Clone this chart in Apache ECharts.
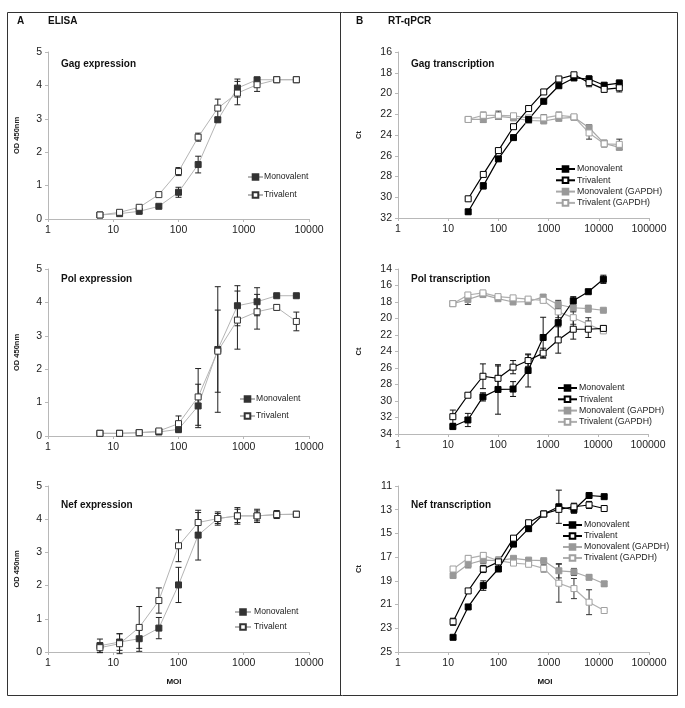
<!DOCTYPE html>
<html>
<head>
<meta charset="utf-8">
<script src="https://cdn.jsdelivr.net/npm/echarts@6/dist/echarts.min.js"></script>
<style>html,body{margin:0;padding:0;background:#fff;}#c{width:685px;height:708px;}</style>
</head>
<body>
<div id="c"></div>
<script>
// ---------- DATA ----------
const moiA = [6.25, 12.5, 25, 50, 100, 200, 400, 800, 1600, 3200, 6400];
const moiGagB = [25, 50, 100, 200, 400, 800, 1600, 3200, 6400, 12800, 25600];
const moiB = [12.5, 25, 50, 100, 200, 400, 800, 1600, 3200, 6400, 12800];

const gagElisaMono = [0.12, 0.16, 0.23, 0.38, 0.8, 1.63, 2.97, 3.92, 4.17, 4.17, 4.17];
const gagElisaMonoErr = [0.02, 0.03, 0.06, 0.04, 0.15, 0.25, 0.06, 0.27, 0.06, 0.03, 0.02];
const gagElisaTri = [0.12, 0.2, 0.35, 0.73, 1.42, 2.45, 3.32, 3.77, 4.02, 4.17, 4.17];
const gagElisaTriErr = [0.02, 0.03, 0.04, 0.03, 0.12, 0.12, 0.27, 0.35, 0.2, 0.04, 0.02];

const polElisaMono = [0.08, 0.08, 0.1, 0.12, 0.2, 0.9, 2.59, 3.9, 4.02, 4.2, 4.2];
const polElisaMonoErr = [0.02, 0.02, 0.02, 0.03, 0.1, 0.65, 1.88, 0.6, 0.42, 0.03, 0.03];
const polElisaTri = [0.08, 0.08, 0.1, 0.15, 0.37, 1.17, 2.54, 3.47, 3.72, 3.85, 3.43];
const polElisaTriErr = [0.02, 0.02, 0.02, 0.05, 0.23, 0.85, 1.23, 0.87, 0.52, 0.08, 0.28];

const nefElisaMono = [0.19, 0.3, 0.4, 0.72, 2.02, 3.52, 4.02, 4.1, 4.1, 4.14, 4.15];
const nefElisaMonoErr = [0.2, 0.25, 0.38, 0.32, 0.53, 0.75, 0.2, 0.25, 0.2, 0.12, 0.08];
const nefElisaTri = [0.13, 0.25, 0.74, 1.55, 3.2, 3.9, 4.02, 4.1, 4.1, 4.14, 4.15];
const nefElisaTriErr = [0.15, 0.3, 0.63, 0.38, 0.48, 0.3, 0.15, 0.2, 0.15, 0.1, 0.06];

const gagPcrMono = [31.4, 28.9, 26.3, 24.25, 22.5, 20.75, 19.25, 18.5, 18.6, 19.2, 19.0];
const gagPcrMonoErr = [0.2, 0.3, 0.2, 0.15, 0.15, 0.15, 0.15, 0.2, 0.3, 0.2, 0.3];
const gagPcrTri = [30.15, 27.8, 25.5, 23.2, 21.45, 19.85, 18.6, 18.2, 18.95, 19.6, 19.45];
const gagPcrTriErr = [0.1, 0.2, 0.2, 0.15, 0.2, 0.2, 0.15, 0.15, 0.4, 0.25, 0.4];
const gagPcrMonoG = [22.5, 22.5, 22.2, 22.35, 22.6, 22.65, 22.4, 22.3, 23.3, 24.8, 25.2];
const gagPcrMonoGErr = [0.1, 0.3, 0.3, 0.1, 0.2, 0.15, 0.2, 0.2, 0.3, 0.3, 0.2];
const gagPcrTriG = [22.5, 22.1, 22.1, 22.15, 22.35, 22.35, 22.1, 22.25, 23.8, 24.85, 24.9];
const gagPcrTriGErr = [0.1, 0.3, 0.4, 0.1, 0.2, 0.3, 0.3, 0.1, 0.6, 0.3, 0.5];

const polPcrMono = [33.1, 32.3, 29.5, 28.6, 28.55, 26.3, 22.3, 20.5, 17.85, 16.75, 15.25];
const polPcrMonoErr = [0.2, 0.8, 0.5, 3.0, 0.9, 2.0, 2.45, 1.8, 0.5, 0.2, 0.5];
const polPcrTri = [31.9, 29.3, 27.0, 27.25, 25.9, 25.1, 24.2, 22.6, 21.3, 21.3, 21.2];
const polPcrTriErr = [0.8, 0.2, 1.5, 1.5, 0.8, 0.7, 0.6, 1.6, 1.2, 1.0, 0.3];
const polPcrMonoG = [18.2, 17.7, 17.1, 17.6, 18.0, 17.95, 17.4, 18.3, 18.7, 18.8, 19.0];
const polPcrMonoGErr = [0.3, 0.6, 0.2, 0.2, 0.2, 0.2, 0.3, 0.5, 0.5, 0.4, 0.1];
const polPcrTriG = [18.2, 17.15, 16.9, 17.35, 17.5, 17.65, 17.8, 19.2, 19.9, 20.7, 21.5];
const polPcrTriGErr = [0.2, 0.2, 0.3, 0.2, 0.2, 0.2, 0.2, 0.7, 0.8, 0.8, 0.2];

const nefPcrMono = [23.76, 21.2, 19.4, 18.0, 15.9, 14.6, 13.36, 12.75, 13.0, 11.8, 11.9];
const nefPcrMonoErr = [0.15, 0.15, 0.4, 0.15, 0.15, 0.2, 0.15, 1.4, 0.3, 0.1, 0.1];
const nefPcrTri = [22.45, 19.85, 18.0, 17.4, 15.4, 14.1, 13.36, 12.97, 12.75, 12.6, 12.9];
const nefPcrTriErr = [0.3, 0.2, 0.3, 0.4, 0.15, 0.15, 0.1, 0.2, 0.3, 0.3, 0.1];
const nefPcrMonoG = [18.55, 17.6, 17.25, 17.3, 17.1, 17.25, 17.3, 18.15, 18.25, 18.7, 19.25];
const nefPcrMonoGErr = [0.15, 0.3, 0.3, 0.15, 0.1, 0.1, 0.1, 0.6, 0.3, 0.2, 0.2];
const nefPcrTriG = [18.0, 17.1, 16.85, 17.3, 17.5, 17.6, 17.95, 19.2, 19.65, 20.8, 21.5];
const nefPcrTriGErr = [0.2, 0.2, 0.2, 0.2, 0.1, 0.1, 0.3, 1.6, 0.85, 1.05, 0.1];

const panelTitles = ['Gag expression', 'Pol expression', 'Nef expression', 'Gag transcription', 'Pol transcription', 'Nef transcription'];
const legendNamesA = ['Monovalent', 'Trivalent'];
const legendNamesB = ['Monovalent', 'Trivalent', 'Monovalent (GAPDH)', 'Trivalent (GAPDH)'];

// ---------- LAYOUT / STYLE ----------
const FONT = '"Liberation Sans", Arial, sans-serif';
const grids = [
  {left: 48, top: 52, width: 261, height: 167},
  {left: 48, top: 269, width: 261, height: 167},
  {left: 48, top: 486, width: 261, height: 166},
  {left: 398, top: 52, width: 251, height: 166},
  {left: 398, top: 269, width: 250, height: 165},
  {left: 398, top: 486, width: 251, height: 166}
];
const yRanges = [[0, 5, 1], [0, 5, 1], [0, 5, 1], [16, 32, 2], [14, 34, 2], [11, 25, 2]];

const styles = {
  'A|Monovalent': {fill: '#333', border: '#333', line: '#b5b5b5', err: '#222'},
  'A|Trivalent': {fill: '#fff', border: '#333', line: '#b5b5b5', err: '#222'},
  'B|Monovalent': {fill: '#000', border: '#000', line: '#000', err: '#111'},
  'B|Trivalent': {fill: '#fff', border: '#000', line: '#000', err: '#111'},
  'B|Monovalent (GAPDH)': {fill: '#999', border: '#999', line: '#a8a8a8', err: '#333'},
  'B|Trivalent (GAPDH)': {fill: '#fff', border: '#a0a0a0', line: '#b0b0b0', err: '#333'}
};

const series = [];
function addSeries(idx, key, xs, ys, errs) {
  const st = styles[key];
  series.push({
    type: 'custom', xAxisIndex: idx, yAxisIndex: idx, silent: true, z: 2,
    data: xs.map((x, k) => [x, ys[k], errs[k]]),
    encode: {x: 0, y: 1},
    renderItem: function (params, api) {
      const x = api.value(0), y = api.value(1), e = api.value(2);
      const p1 = api.coord([x, y - e]);
      const p2 = api.coord([x, y + e]);
      const hw = 3;
      const s = {stroke: st.err, lineWidth: 1};
      return {type: 'group', children: [
        {type: 'line', shape: {x1: p1[0], y1: p1[1], x2: p2[0], y2: p2[1]}, style: s},
        {type: 'line', shape: {x1: p1[0] - hw, y1: p1[1], x2: p1[0] + hw, y2: p1[1]}, style: s},
        {type: 'line', shape: {x1: p2[0] - hw, y1: p2[1], x2: p2[0] + hw, y2: p2[1]}, style: s}
      ]};
    }
  });
  series.push({
    type: 'line', name: key, xAxisIndex: idx, yAxisIndex: idx, z: 3,
    data: xs.map((x, k) => [x, ys[k]]),
    symbol: 'rect', symbolSize: 6,
    itemStyle: {color: st.fill, borderColor: st.border, borderWidth: 1, opacity: 1},
    lineStyle: {color: st.line, width: idx < 3 ? 1 : 1.2},
    emphasis: {disabled: true}
  });
}

addSeries(0, 'A|Monovalent', moiA, gagElisaMono, gagElisaMonoErr);
addSeries(0, 'A|Trivalent', moiA, gagElisaTri, gagElisaTriErr);
addSeries(1, 'A|Monovalent', moiA, polElisaMono, polElisaMonoErr);
addSeries(1, 'A|Trivalent', moiA, polElisaTri, polElisaTriErr);
addSeries(2, 'A|Monovalent', moiA, nefElisaMono, nefElisaMonoErr);
addSeries(2, 'A|Trivalent', moiA, nefElisaTri, nefElisaTriErr);

addSeries(3, 'B|Monovalent (GAPDH)', moiGagB, gagPcrMonoG, gagPcrMonoGErr);
addSeries(3, 'B|Trivalent (GAPDH)', moiGagB, gagPcrTriG, gagPcrTriGErr);
addSeries(3, 'B|Monovalent', moiGagB, gagPcrMono, gagPcrMonoErr);
addSeries(3, 'B|Trivalent', moiGagB, gagPcrTri, gagPcrTriErr);
addSeries(4, 'B|Monovalent (GAPDH)', moiB, polPcrMonoG, polPcrMonoGErr);
addSeries(4, 'B|Trivalent (GAPDH)', moiB, polPcrTriG, polPcrTriGErr);
addSeries(4, 'B|Monovalent', moiB, polPcrMono, polPcrMonoErr);
addSeries(4, 'B|Trivalent', moiB, polPcrTri, polPcrTriErr);
addSeries(5, 'B|Monovalent (GAPDH)', moiB, nefPcrMonoG, nefPcrMonoGErr);
addSeries(5, 'B|Trivalent (GAPDH)', moiB, nefPcrTriG, nefPcrTriGErr);
addSeries(5, 'B|Monovalent', moiB, nefPcrMono, nefPcrMonoErr);
addSeries(5, 'B|Trivalent', moiB, nefPcrTri, nefPcrTriErr);

const axisGray = '#b8b8b8';
const xAxes = grids.map((g, i) => ({
  type: 'log', logBase: 10, gridIndex: i,
  min: 1, max: i < 3 ? 10000 : 100000,
  axisLine: {onZero: false, lineStyle: {color: axisGray, width: 1}},
  axisTick: {show: true, length: 3, lineStyle: {color: axisGray}},
  minorTick: {show: false},
  splitLine: {show: false},
  axisLabel: {color: '#222', fontSize: 10.5, fontFamily: FONT, margin: 6,
    formatter: v => String(Math.round(v))}
}));
const yAxes = grids.map((g, i) => ({
  type: 'value', gridIndex: i,
  min: yRanges[i][0], max: yRanges[i][1], interval: yRanges[i][2],
  inverse: i >= 3,
  name: i < 3 ? 'OD 450nm' : 'Ct',
  nameLocation: 'middle', nameRotate: 90, nameGap: i < 3 ? 27 : 35,
  nameTextStyle: {fontSize: 7.5, fontWeight: 'bold', color: '#222', fontFamily: FONT},
  axisLine: {show: true, lineStyle: {color: axisGray, width: 1}},
  axisTick: {show: true, length: 3, lineStyle: {color: axisGray}},
  splitLine: {show: false},
  axisLabel: {color: '#222', fontSize: 10.5, fontFamily: FONT, margin: 6}
}));

const legendPos = [
  {left: 247, top: 171.5, gap: 7, w: 15, pad: -4}, {left: 239, top: 393.5, gap: 6, w: 15, pad: -4}, {left: 234, top: 606.5, gap: 4, w: 16, pad: -2},
  {left: 555, top: 163.5, gap: 0.3, w: 19, pad: -3}, {left: 557, top: 382.5, gap: 0.3, w: 19, pad: -3}, {left: 562, top: 519.5, gap: 0, w: 19, pad: -3}
];
const legends = legendPos.map((p, i) => ({
  orient: 'vertical', left: p.left, top: p.top, padding: 0,
  itemWidth: p.w, itemHeight: 7, itemGap: p.gap,
  selectedMode: false,
  data: (i < 3 ? legendNamesA.map(n => 'A|' + n) : legendNamesB.map(n => 'B|' + n)),
  formatter: name => name.split('|')[1],
  textStyle: {fontSize: i < 3 ? 8.6 : 8.8, lineHeight: 11, color: '#222', fontFamily: FONT, padding: [0, 0, 0, p.pad]}
}));

const titlePos = [[61, 64], [61, 279], [61, 505], [411, 64], [411, 279], [411, 505]];
const graphics = [
  {type: 'rect', shape: {x: 7.5, y: 12.5, width: 670, height: 683}, style: {fill: 'none', stroke: '#333', lineWidth: 1}},
  {type: 'line', shape: {x1: 340.5, y1: 12.5, x2: 340.5, y2: 695.5}, style: {stroke: '#333', lineWidth: 1}},
  {type: 'text', left: 17, top: 16, style: {text: 'A', font: 'bold 10px ' + FONT, fill: '#111'}},
  {type: 'text', left: 48, top: 16, style: {text: 'ELISA', font: 'bold 10px ' + FONT, fill: '#111'}},
  {type: 'text', left: 356, top: 16, style: {text: 'B', font: 'bold 10px ' + FONT, fill: '#111'}},
  {type: 'text', left: 388, top: 16, style: {text: 'RT-qPCR', font: 'bold 10px ' + FONT, fill: '#111'}},
  {type: 'text', x: 174, y: 682, style: {text: 'MOI', font: 'bold 8px ' + FONT, fill: '#111', textAlign: 'center', textVerticalAlign: 'middle'}},
  {type: 'text', x: 545, y: 682, style: {text: 'MOI', font: 'bold 8px ' + FONT, fill: '#111', textAlign: 'center', textVerticalAlign: 'middle'}}
];
panelTitles.forEach((t, i) => {
  graphics.push({type: 'text', x: titlePos[i][0], y: titlePos[i][1],
    style: {text: t, font: 'bold 10px ' + FONT, fill: '#111', textVerticalAlign: 'middle'}});
});

const chart = echarts.init(document.getElementById('c'), null, {renderer: 'canvas'});
chart.setOption({
  backgroundColor: '#fff',
  animation: false,
  grid: grids,
  xAxis: xAxes,
  yAxis: yAxes,
  legend: legends,
  series: series,
  graphic: graphics
});
</script>
</body>
</html>
